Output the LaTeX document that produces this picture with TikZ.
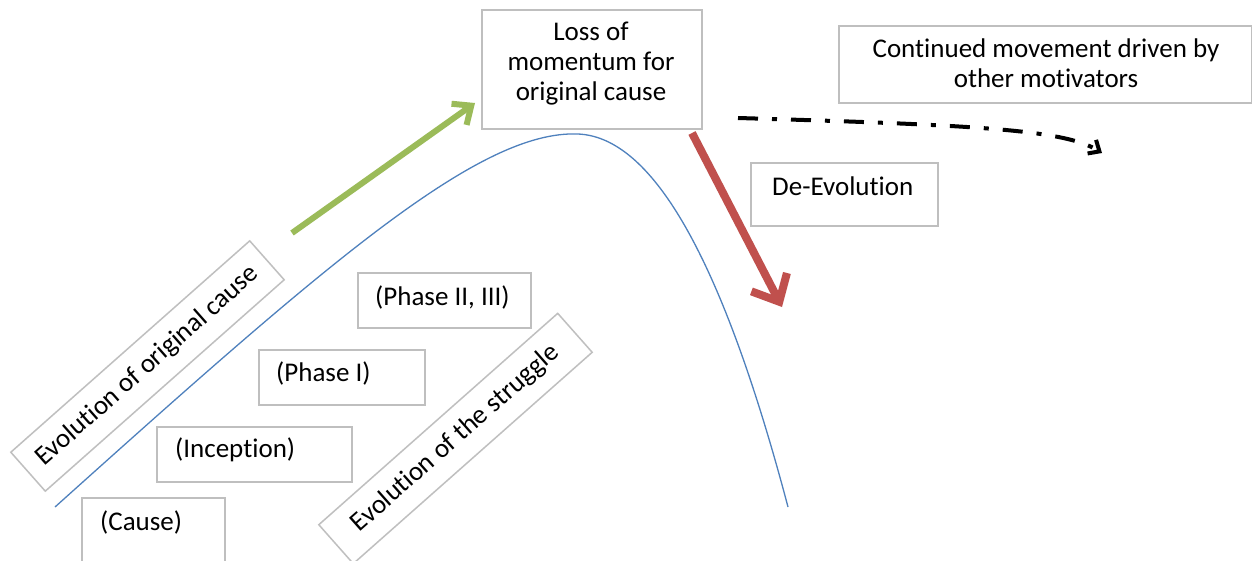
\documentclass[tikz,border=0pt]{standalone}
\usepackage{fontspec}
\setmainfont{Carlito}[Ligatures={NoCommon}]
\usetikzlibrary{arrows.meta}
\definecolor{boxgray}{HTML}{BFBFBF}
\definecolor{curveblue}{HTML}{4F81BD}
\definecolor{arrgreen}{HTML}{9BBB59}
\definecolor{arrred}{HTML}{C0504D}
\begin{document}
\begin{tikzpicture}[x=1pt,y=-1pt,
  every node/.style={font=\fontsize{27}{30}\selectfont, text=black},
  box/.style={draw=boxgray, line width=1.5pt, rectangle, inner sep=0pt, anchor=north west},
  lbl/.style={inner sep=0pt, anchor=west},
  rbox/.style={draw=boxgray, line width=1.5pt, rectangle, inner sep=0pt, rotate=41.5, minimum width=319pt, minimum height=52pt}]
\useasboundingbox (0,0) rectangle (1252,560);
\fill[white] (0,0) rectangle (1252,560);

% curve
\draw[curveblue, line width=1.3pt] (55,507) .. controls (330,260) and (480,130) .. (578,134)
  .. controls (650,137) and (720,250) .. (788,507);

% top box
\node[box, minimum width=220pt, minimum height=119pt] (loss) at (481,9) {};
\node[inner sep=0pt, align=center] (losst) at (591,64) {Loss of\\momentum for\\original cause};

% continued box
\node[box, minimum width=413pt, minimum height=77pt] (cont) at (838,25) {};
\node[inner sep=0pt, align=center] (contt) at (1046,63) {Continued movement driven by\\other motivators};

% de-evolution
\node[box, minimum width=187pt, minimum height=63pt] (deev) at (750,162) {};
\node[lbl] (deevt) at ([xshift=22pt,yshift=-24pt]deev.north west) {De-Evolution};

% phase boxes
\node[box, minimum width=173pt, minimum height=55pt] (ph23) at (357,272) {};
\node[lbl] (ph23t) at ([xshift=18pt,yshift=-25pt]ph23.north west) {(Phase II, III)};
\node[box, minimum width=166pt, minimum height=55pt] (ph1) at (258,349) {};
\node[lbl] (ph1t) at ([xshift=18pt,yshift=-24pt]ph1.north west) {(Phase I)};
\node[box, minimum width=195pt, minimum height=55pt] (inc) at (156,426) {};
\node[lbl] (inct) at ([xshift=19pt,yshift=-24pt]inc.north west) {(Inception)};
\node[box, minimum width=143pt, minimum height=66pt] (cause) at (81,497) {};
\node[lbl] (causet) at ([xshift=19pt,yshift=-25pt]cause.north west) {(Cause)};

% rotated boxes
\node[rbox] (evorig) at (147.5,366) {Evolution of original cause};
\node[rbox] (evstr) at (455.5,438.5) {Evolution of the struggle};

% arrows
\coordinate (gs) at (292,233);
\coordinate (ge) at (475,103);
\draw[arrgreen, line width=6pt, -{Straight Barb[length=15pt,width=26pt]}] (gs) -- (ge);

\coordinate (rs) at (692,133);
\coordinate (re) at (782,307);
\draw[arrred, line width=8pt, -{Straight Barb[length=22pt,width=40pt]}] (rs) -- (re);

\coordinate (bs) at (738,118);
\coordinate (be) at (1102,153);
\draw[black, line width=4pt, dash pattern=on 20pt off 14pt on 5pt off 14pt,
  -{Straight Barb[length=9pt,width=16pt]}] (bs) .. controls (980,125) and (1065,130) .. (be);
\end{tikzpicture}
\end{document}
